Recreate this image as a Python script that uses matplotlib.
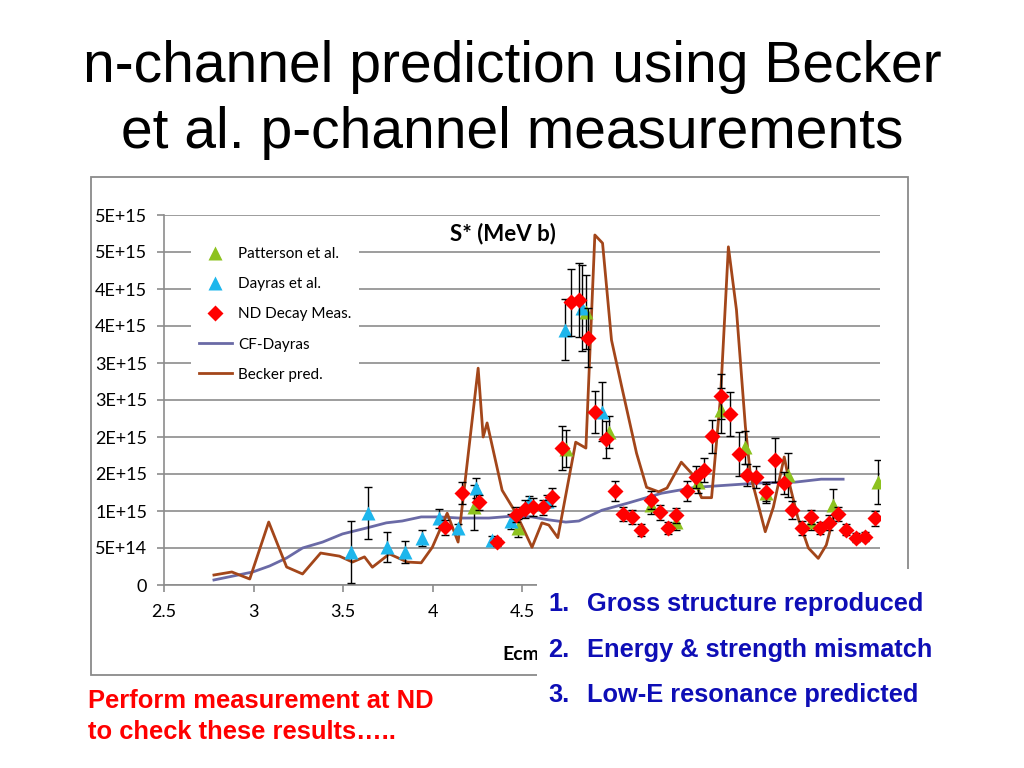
import matplotlib.pyplot as plt
from matplotlib.lines import Line2D
from matplotlib.patches import Rectangle

# data (S* in units of 1E15 MeV b)
patterson_x = [4.233, 4.478, 4.745, 4.857, 4.985, 5.22, 5.36, 5.486, 5.614, 5.748, 5.865, 5.988, 6.115, 6.238, 6.49]
patterson_y = [1.05, 0.77, 1.84, 3.69, 2.07, 1.08, 0.85, 1.39, 2.36, 1.86, 1.24, 1.49, 0.85, 1.08, 1.39]
patterson_err = [0.30, 0.12, 0.25, 0.50, 0.22, 0.12, 0.10, 0.15, 0.30, 0.22, 0.13, 0.30, 0.10, 0.22, 0.30]

dayras_x = [3.547, 3.642, 3.748, 3.848, 3.943, 4.038, 4.143, 4.244, 4.333, 4.44, 4.54, 4.64, 4.74, 4.834, 4.946]
dayras_y = [0.446, 0.97, 0.51, 0.45, 0.64, 0.90, 0.77, 1.31, 0.61, 0.86, 1.12, 1.14, 3.45, 3.74, 2.34]
dayras_err = [0.42, 0.35, 0.20, 0.15, 0.11, 0.13, 0.05, 0.14, 0.05, 0.10, 0.08, 0.08, 0.41, 0.58, 0.40]

nd_x = [4.071, 4.166, 4.26, 4.36, 4.467, 4.517, 4.56, 4.617, 4.667, 4.723, 4.773, 4.818, 4.868, 4.907,
        4.968, 5.018, 5.063, 5.113, 5.163, 5.219, 5.27, 5.313, 5.363, 5.419, 5.47, 5.514, 5.564, 5.614,
        5.664, 5.714, 5.759, 5.81, 5.865, 5.915, 5.965, 6.01, 6.065, 6.115, 6.166, 6.216, 6.266, 6.311,
        6.366, 6.416, 6.472]
nd_y = [0.78, 1.24, 1.12, 0.58, 0.95, 1.03, 1.05, 1.05, 1.19, 1.85, 3.82, 3.85, 3.34, 2.34,
        1.97, 1.27, 0.96, 0.92, 0.74, 1.15, 0.98, 0.77, 0.94, 1.27, 1.46, 1.55, 2.01, 2.55,
        2.31, 1.77, 1.49, 1.46, 1.26, 1.69, 1.38, 1.01, 0.77, 0.92, 0.77, 0.84, 0.96, 0.75,
        0.64, 0.65, 0.90]
nd_err = [0.10, 0.15, 0.10, 0.05, 0.10, 0.12, 0.12, 0.10, 0.12, 0.30, 0.45, 0.50, 0.40, 0.28,
          0.25, 0.14, 0.10, 0.10, 0.08, 0.12, 0.10, 0.08, 0.10, 0.14, 0.15, 0.16, 0.22, 0.30,
          0.30, 0.30, 0.15, 0.15, 0.13, 0.30, 0.15, 0.12, 0.09, 0.10, 0.08, 0.10, 0.10, 0.08,
          0.06, 0.06, 0.10]

cf_x = [2.779, 2.996, 3.09, 3.185, 3.274, 3.386, 3.497, 3.631, 3.742, 3.831, 3.937, 4.038, 4.149,
        4.316, 4.444, 4.556, 4.65, 4.745, 4.818, 4.946, 5.096, 5.28, 5.469, 5.653, 5.837, 6.026, 6.171, 6.294]
cf_y = [0.068, 0.176, 0.257, 0.365, 0.50, 0.58, 0.69, 0.77, 0.84, 0.865, 0.92, 0.92, 0.905,
        0.905, 0.93, 0.92, 0.88, 0.85, 0.865, 1.01, 1.11, 1.24, 1.32, 1.35, 1.38, 1.39, 1.43, 1.43]

becker_x = [2.779, 2.879, 2.979, 3.085, 3.185, 3.274, 3.375, 3.48, 3.553, 3.62, 3.664, 3.759, 3.859,
            3.937, 3.999, 4.082, 4.143, 4.255, 4.283, 4.305, 4.389, 4.467, 4.556, 4.611, 4.65, 4.70,
            4.80, 4.857, 4.907, 4.95, 5.0, 5.057, 5.14, 5.196, 5.263, 5.31, 5.39, 5.447, 5.503, 5.559,
            5.609, 5.653, 5.698, 5.748, 5.776, 5.859, 5.904, 5.965, 5.999, 6.04, 6.10, 6.155, 6.20, 6.244]
becker_y = [0.135, 0.176, 0.081, 0.851, 0.243, 0.149, 0.432, 0.39, 0.31, 0.38, 0.24, 0.42, 0.31,
            0.30, 0.51, 0.97, 0.58, 2.93, 2.0, 2.19, 1.28, 0.97, 0.51, 0.84, 0.81, 0.64,
            1.93, 1.85, 4.73, 4.62, 3.31, 2.68, 1.78, 1.32, 1.26, 1.31, 1.66, 1.51, 1.18, 1.18,
            2.54, 4.57, 3.72, 2.14, 1.49, 0.72, 1.05, 1.73, 1.32, 0.92, 0.50, 0.36, 0.54, 0.95]

y_ticks = [0, 0.5, 1.0, 1.5, 2.0, 2.5, 3.0, 3.5, 4.0, 4.5, 5.0]
y_labels = ['0', '5E+14', '1E+15', '2E+15', '2E+15', '3E+15', '3E+15', '4E+15', '4E+15', '5E+15', '5E+15']
# labels right of 4.5 are hidden under the text box on the slide
x_ticks = [2.5, 3, 3.5, 4, 4.5, 5, 5.5, 6, 6.5]
x_labels = ['2.5', '3', '3.5', '4', '4.5', '', '', '', '']

green = '#8DC21F'
cyan = '#1DB6EC'
red = '#FF0000'
cf_col = '#6A6AA6'
brown = '#A3461A'
grid_col = '#8C8C8C'
blue = '#0E0EB6'
W, H = 1024, 768

fig = plt.figure(figsize=(10.24, 7.68), dpi=100)
fig.patch.set_facecolor('white')

# chart frame
fig.add_artist(Rectangle((91 / W, 1 - 675 / H), (908 - 91) / W, (675 - 177) / H, transform=fig.transFigure,
                         fill=False, edgecolor='#8A8A8A', lw=1.3, zorder=0))

ax = fig.add_axes([164 / W, 1 - 585 / H, (880 - 164) / W, (585 - 215) / H])
ax.set_xlim(2.5, 6.5)
ax.set_ylim(0, 5.0)
ax.set_facecolor('none')

ax.plot(cf_x, cf_y, color=cf_col, lw=2.0, zorder=3)
ax.plot(becker_x, becker_y, color=brown, lw=2.0, zorder=3)

ax.errorbar(patterson_x, patterson_y, yerr=patterson_err, fmt='^', color=green, ms=10, mec='none',
            ecolor='black', elinewidth=1, capsize=3, zorder=4)
ax.errorbar(dayras_x, dayras_y, yerr=dayras_err, fmt='^', color=cyan, ms=10, mec='none',
            ecolor='black', elinewidth=1, capsize=3, zorder=4)
ax.errorbar(nd_x, nd_y, yerr=nd_err, fmt='D', color=red, ms=8.5, mec='none',
            ecolor='black', elinewidth=1, capsize=3, zorder=5)

ax.set_yticks(y_ticks)
ax.set_yticklabels(y_labels)
ax.set_xticks(x_ticks)
ax.set_xticklabels(x_labels)
ax.grid(axis='y', color=grid_col, lw=1.2)
ax.set_axisbelow(True)
for s in ['top', 'right']:
    ax.spines[s].set_visible(False)
for s in ['left', 'bottom']:
    ax.spines[s].set_color(grid_col)
    ax.spines[s].set_linewidth(1.2)
ax.tick_params(axis='both', colors=grid_col, length=5, width=1.2, labelcolor='black', labelsize=13)
ax.tick_params(axis='y', pad=7)
ax.tick_params(axis='x', pad=9)
for t in ax.get_xticklabels() + ax.get_yticklabels():
    t.set_family('Lato')

handles = [
    Line2D([], [], ls='none', marker='^', color=green, ms=10, mec='none'),
    Line2D([], [], ls='none', marker='^', color=cyan, ms=10, mec='none'),
    Line2D([], [], ls='none', marker='D', color=red, ms=8, mec='none'),
    Line2D([], [], color=cf_col, lw=2.0),
    Line2D([], [], color=brown, lw=2.0),
]
labels = ['Patterson et al.', 'Dayras et al.', 'ND Decay Meas.', 'CF-Dayras', 'Becker pred.']
leg = ax.legend(handles, labels, loc='upper left', bbox_to_anchor=(0.027, 0.955), frameon=True,
                fancybox=False, edgecolor='none', facecolor='white', framealpha=1,
                prop={'family': 'Lato', 'size': 11}, handlelength=2.2, handletextpad=0.4,
                labelspacing=1.06, borderpad=0.5)
leg.set_zorder(6)

fig.text(503 / W, 1 - 234 / H, 'S* (MeV b)', ha='center', va='center', fontsize=16,
         fontweight='bold', family='Lato')
fig.text(502 / W, 1 - 655 / H, 'Ecm', ha='left', va='center', fontsize=14,
         fontweight='bold', family='Lato')

# white text box covering the lower right of the chart
fig.add_artist(Rectangle((537 / W, 1 - 728 / H), (955 - 537) / W, (728 - 569) / H, transform=fig.transFigure,
                         facecolor='white', edgecolor='none', zorder=10))

notes = ['Gross structure reproduced', 'Energy & strength mismatch', 'Low-E resonance predicted']
note_base = [611, 657, 702]
for i, (txt, yy) in enumerate(zip(notes, note_base)):
    fig.text(548 / W, 1 - yy / H, f'{i + 1}.', ha='left', va='baseline', fontsize=18.3, fontweight='bold',
             color=blue, family='Liberation Sans', zorder=11)
    fig.text(587 / W, 1 - yy / H, txt, ha='left', va='baseline', fontsize=18.3, fontweight='bold',
             color=blue, family='Liberation Sans', zorder=11)

fig.text(88 / W, 1 - 708 / H, 'Perform measurement at ND', ha='left', va='baseline', fontsize=18.4,
         fontweight='bold', color=red, family='Liberation Sans')
fig.text(88 / W, 1 - 739 / H, 'to check these results…..', ha='left', va='baseline', fontsize=18.4,
         fontweight='bold', color=red, family='Liberation Sans')

fig.text(512 / W, 1 - 82 / H, 'n-channel prediction using Becker', ha='center', va='baseline', fontsize=41,
         family='Liberation Sans')
fig.text(512 / W, 1 - 148 / H, 'et al. p-channel measurements', ha='center', va='baseline', fontsize=41,
         family='Liberation Sans')

fig.savefig('out.png', dpi=100)
